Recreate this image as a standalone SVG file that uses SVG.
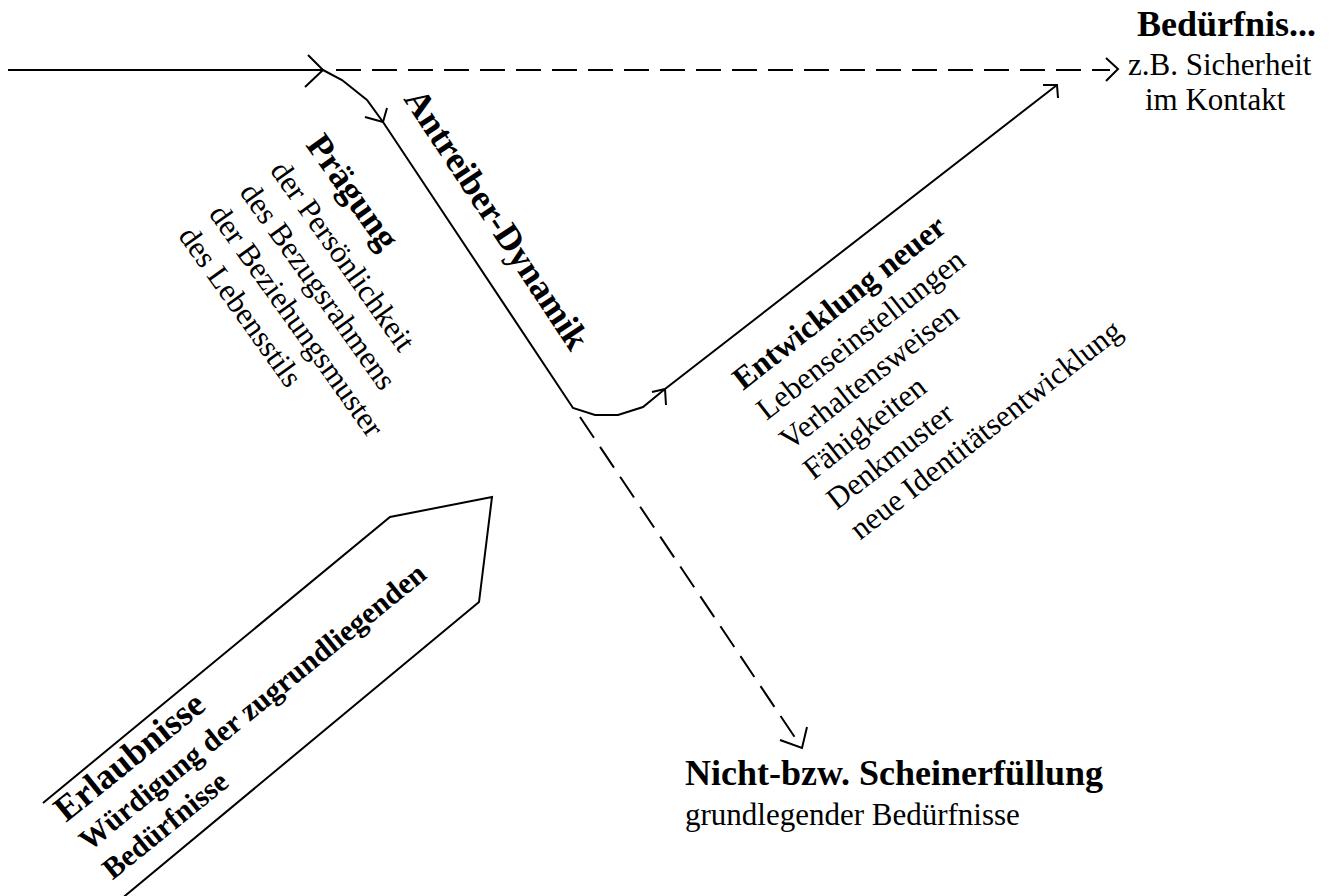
<svg xmlns="http://www.w3.org/2000/svg" width="1342" height="896" viewBox="0 0 1342 896">
<style>
.ln{fill:none;stroke:#000;stroke-width:2;stroke-linejoin:miter}
.dash{fill:none;stroke:#000;stroke-width:2;stroke-dasharray:25 11}
.t{font-family:"Liberation Serif","Times New Roman",serif;fill:#000}
.b{font-weight:bold}
.r{font-size:31px}
</style>
<rect width="1342" height="896" fill="#fff"/>
<g id="connectors">
<line class="ln" x1="8" y1="70" x2="323" y2="70"/>
<polyline class="ln" points="308,55 323,70 305,87"/>
<line class="dash" x1="336" y1="70" x2="1110" y2="70"/>
<polyline class="ln" points="1106,58 1118,69 1106,81"/>
<polyline class="ln" points="323,70 342,80 367,100 383,122 573,408 595,415 618,415 643,407 665,389 1057,85"/>
<polyline class="ln" points="365,117 383,122 387,108"/>
<polyline class="ln" points="652,392 665,389 666,405"/>
<polyline class="ln" points="1043,85 1057,85 1058,98"/>
<line class="dash" x1="580" y1="417" x2="800" y2="745"/>
<polyline class="ln" points="780,740 802,748 807,727"/>
</g>
<g id="beduerfnis">
<text class="t b" x="1137" y="36" font-size="36">Bedürfnis...</text>
<text class="t r" x="1128" y="75">z.B. Sicherheit</text>
<text class="t r" x="1145" y="110">im Kontakt</text>
</g>
<g id="antreiber" transform="translate(403,99) rotate(56.5)">
<text class="t b" x="0" y="0" font-size="36">Antreiber-Dynamik</text>
</g>
<g id="praegung" transform="translate(305,145) rotate(54.5)">
<text class="t b" x="0" y="0" font-size="36">Prägung</text>
<text class="t r" x="0" y="44">der Persönlichkeit</text>
<text class="t r" x="0" y="81.5">des Bezugsrahmens</text>
<text class="t r" x="0" y="119">der Beziehungsmuster</text>
<text class="t r" x="0" y="156.5">des Lebensstils</text>
</g>
<g id="entwicklung" transform="translate(743,391) rotate(-38)">
<text class="t b" x="0" y="0" font-size="32">Entwicklung neuer</text>
<text class="t r" x="0" y="38">Lebenseinstellungen</text>
<text class="t r" x="0" y="76">Verhaltensweisen</text>
<text class="t r" x="0" y="114">Fähigkeiten</text>
<text class="t r" x="0" y="152">Denkmuster</text>
<text class="t r" x="0" y="190">neue Identitätsentwicklung</text>
</g>
<g id="erlaubnisse">
<polyline class="ln" points="43,803 390,517 492,497 479,602 120,900"/>
<g transform="translate(66,823) rotate(-39)">
<text class="t b" x="0" y="0" font-size="36">Erlaubnisse</text>
<text class="t b" x="0" y="37" font-size="30">Würdigung der zugrundliegenden</text>
<text class="t b" x="0" y="74" font-size="30">Bedürfnisse</text>
</g>
</g>
<g id="nicht">
<text class="t b" x="685" y="785" font-size="36">Nicht-bzw. Scheinerfüllung</text>
<text class="t r" x="685" y="825">grundlegender Bedürfnisse</text>
</g>
</svg>
